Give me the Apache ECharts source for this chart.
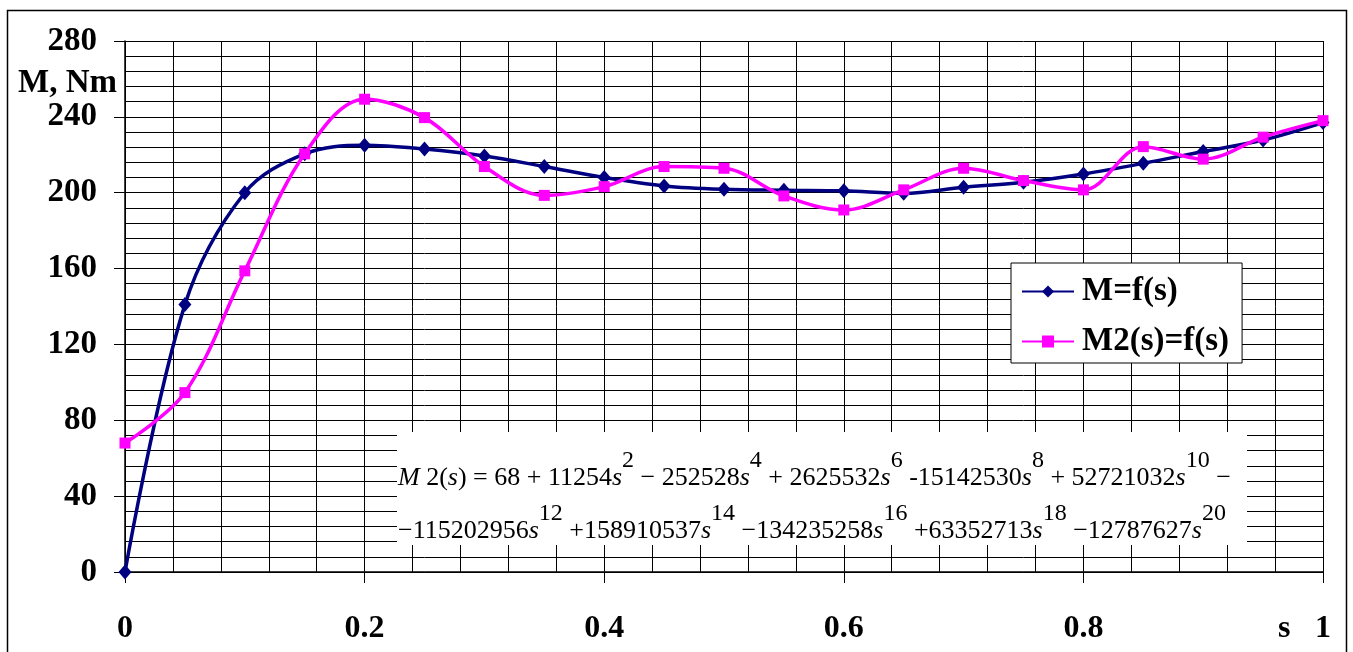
<!DOCTYPE html>
<html><head><meta charset="utf-8">
<script src="https://cdn.jsdelivr.net/npm/echarts@6/dist/echarts.min.js"></script>
<style>html,body{margin:0;padding:0;background:#fff}#c{width:1353px;height:652px}</style>
</head><body><div id="c"></div>
<script>
const sValues = [0, 0.05, 0.1, 0.15, 0.2, 0.25, 0.3, 0.35, 0.4, 0.45, 0.5, 0.55, 0.6, 0.65, 0.7, 0.75, 0.8, 0.85, 0.9, 0.95, 1];
const mValues = [0, 141, 200, 220.5, 225, 223, 219.4, 213.8, 208, 203.6, 201.8, 201.3, 201, 199.7, 202.9, 205.5, 209.9, 215.5, 221.7, 227.8, 237];
const m2Values = [68, 94.6, 158.8, 220.5, 249.3, 239.6, 213.8, 198.6, 203.2, 213.8, 212.9, 198.3, 190.9, 201.5, 212.9, 206.4, 201.5, 224.3, 217.7, 229.3, 238];
const xTickLabels = ['0', '0.2', '0.4', '0.6', '0.8', '1'];
const yTickLabels = ['0', '40', '80', '120', '160', '200', '240', '280'];
const seriesNames = ['M=f(s)', 'M2(s)=f(s)'];
const formulaLine1 = '{i|M}{n| 2(}{i|s}{n|) = 68 + 11254}{i|s}{p|2}{n| − 252528}{i|s}{p|4}{n| + 2625532}{i|s}{p|6}{n| -15142530}{i|s}{p|8}{n| + 52721032}{i|s}{p|10}{n| −}';
const formulaLine2 = '{n|−115202956}{i|s}{p|12}{n| +158910537}{i|s}{p|14}{n| −134235258}{i|s}{p|16}{n| +63352713}{i|s}{p|18}{n| −12787627}{i|s}{p|20}';

const FONT = 'Liberation Serif';
const rich = {
  n: {fontFamily: FONT, fontSize: 26, lineHeight: 30, verticalAlign: 'bottom', color: '#000'},
  i: {fontFamily: FONT, fontSize: 26, fontStyle: 'italic', lineHeight: 30, verticalAlign: 'bottom', color: '#000'},
  p: {fontFamily: FONT, fontSize: 24, lineHeight: 30, verticalAlign: 'bottom', padding: [0, 0, 18, 0], color: '#000'}
};

const chart = echarts.init(document.getElementById('c'), null, {renderer: 'canvas'});
const pair = (ys) => sValues.map((s, i) => [s, ys[i]]);

chart.setOption({
  animation: false,
  backgroundColor: '#fff',
  textStyle: {fontFamily: FONT},
  grid: {left: 125, right: 30, top: 41, bottom: 80, containLabel: false, outerBoundsMode: 'none'},
  legend: {
    orient: 'vertical', left: 1011, top: 263,
    backgroundColor: '#fff', borderColor: '#000', borderWidth: 1, borderRadius: 0,
    padding: [12, 13, 5, 10], itemGap: 17, itemWidth: 52, itemHeight: 15,
    textStyle: {fontFamily: FONT, fontWeight: 'bold', fontSize: 33, color: '#000', padding: [0, 0, 0, 3]},
    data: seriesNames
  },
  xAxis: {
    type: 'value', min: 0, max: 1, interval: 0.2,
    name: 's', nameLocation: 'end', nameGap: -45,
    nameTextStyle: {fontFamily: FONT, fontWeight: 'bold', fontSize: 32, color: '#000', verticalAlign: 'top', padding: [41, 0, 0, 0]},
    axisLine: {show: true, onZero: false, lineStyle: {color: '#000', width: 1.5}},
    axisTick: {show: true, length: 11, lineStyle: {color: '#000', width: 1}},
    axisLabel: {margin: 41, fontFamily: FONT, fontWeight: 'bold', fontSize: 32, color: '#000',
      formatter: (v) => xTickLabels[Math.round(v / 0.2)]},
    splitLine: {show: true, lineStyle: {color: '#000', width: 1}},
    minorTick: {show: false, splitNumber: 5},
    minorSplitLine: {show: true, lineStyle: {color: '#000', width: 1}}
  },
  yAxis: {
    type: 'value', min: 0, max: 280, interval: 40,
    name: 'M, Nm', nameLocation: 'end', nameGap: -66,
    nameTextStyle: {fontFamily: FONT, fontWeight: 'bold', fontSize: 33, color: '#000', align: 'right', verticalAlign: 'bottom', padding: [0, 8, 0, 0]},
    axisLine: {show: true, lineStyle: {color: '#000', width: 1.5}},
    axisTick: {show: true, length: 11, lineStyle: {color: '#000', width: 1}},
    axisLabel: {margin: 28, fontFamily: FONT, fontWeight: 'bold', fontSize: 33, color: '#000',
      formatter: (v) => yTickLabels[Math.round(v / 40)]},
    splitLine: {show: true, lineStyle: {color: '#000', width: 1}},
    minorTick: {show: false, splitNumber: 5},
    minorSplitLine: {show: true, lineStyle: {color: '#000', width: 1}}
  },
  graphic: {elements: [
    {type: 'rect', silent: true, z: 1, shape: {x: 7.5, y: 10.5, width: 1339, height: 700},
      style: {fill: 'none', stroke: '#000', lineWidth: 1.5}},
    {type: 'rect', silent: true, z: 1, shape: {x: 397, y: 432, width: 850, height: 113},
      style: {fill: '#fff', stroke: 'none'}},
    {type: 'text', silent: true, z: 1, x: 398, y: 491,
      style: {text: formulaLine1, rich: rich, verticalAlign: 'bottom', align: 'left'}},
    {type: 'text', silent: true, z: 1, x: 398, y: 544,
      style: {text: formulaLine2, rich: rich, verticalAlign: 'bottom', align: 'left'}}
  ]},
  series: [
    {name: seriesNames[0], type: 'line', data: pair(mValues), smooth: 0.35,
      symbol: 'diamond', symbolSize: [13, 15], showAllSymbol: true,
      lineStyle: {color: '#000080', width: 3.5}, itemStyle: {color: '#000080'}, z: 3},
    {name: seriesNames[1], type: 'line', data: pair(m2Values), smooth: 0.35,
      symbol: 'rect', symbolSize: 11, showAllSymbol: true,
      lineStyle: {color: '#FF00FF', width: 3.5}, itemStyle: {color: '#FF00FF'}, z: 4}
  ]
});
</script></body></html>
